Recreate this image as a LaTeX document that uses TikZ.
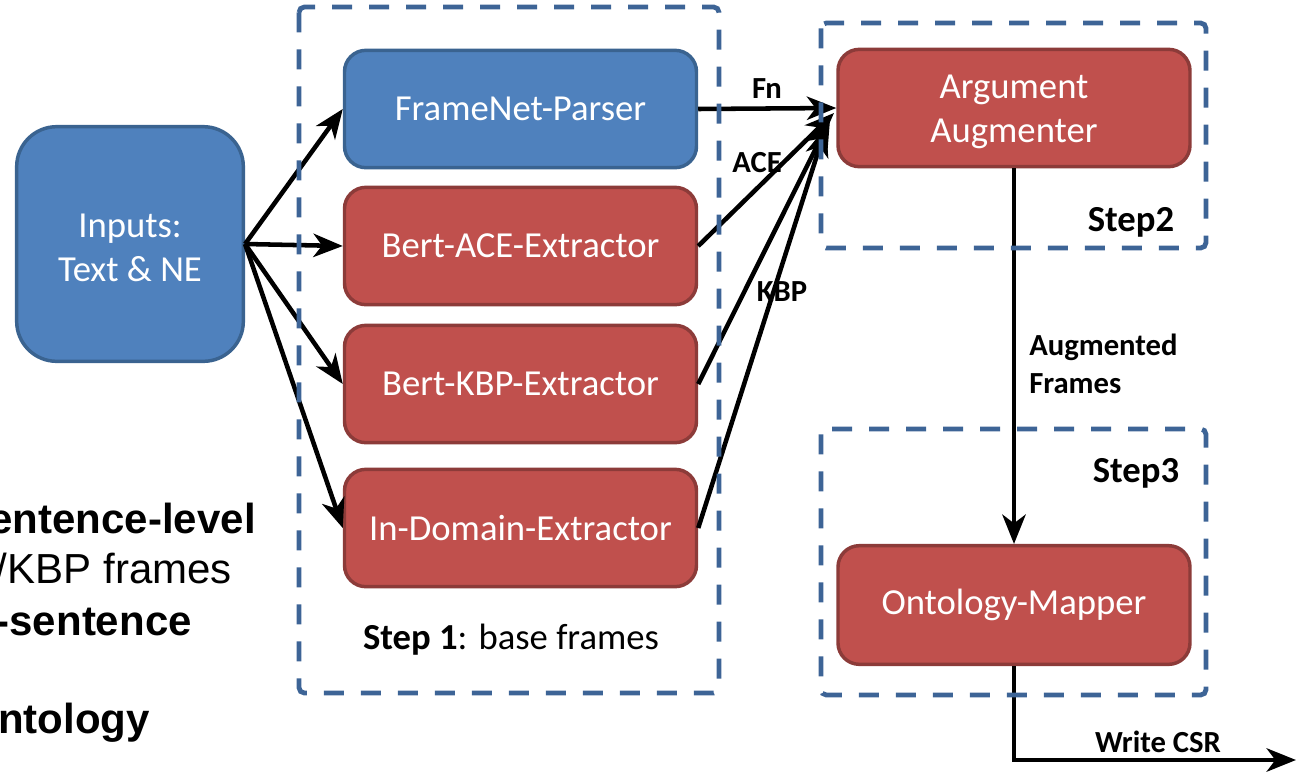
\documentclass[tikz,border=0pt]{standalone}
\usepackage{fontspec}
\setmainfont{Carlito}
\newfontfamily\sidefont{Liberation Sans}
\usetikzlibrary{arrows.meta}
\definecolor{boxblue}{HTML}{4F81BD}
\definecolor{boxblueedge}{HTML}{3A6390}
\definecolor{boxred}{HTML}{C0504D}
\definecolor{boxrededge}{HTML}{8C3B39}
\definecolor{stepline}{HTML}{3D6496}
\tikzset{
  box/.style={rounded corners=16pt, line width=2.6pt, minimum width=264pt,
    minimum height=88pt, inner sep=0pt, align=center, text=white,
    font=\fontsize{27.5}{33}\selectfont},
  bluebox/.style={box, fill=boxblue, draw=boxblueedge},
  redbox/.style={box, fill=boxred, draw=boxrededge},
  boxtext/.style={inner sep=0pt, align=center, text=white,
    font=\fontsize{27.5}{32.5}\selectfont},
  stepframe/.style={draw=stepline, line width=3.6pt,
    dash pattern=on 15pt off 12.75pt, rounded corners=4pt},
  flow/.style={line width=3.4pt, -{Stealth[length=22pt,width=17.5pt,inset=6.5pt]}},
  lbl/.style={inner sep=0pt, font=\bfseries\fontsize{23}{28.5}\selectfont},
  steplbl/.style={inner sep=0pt, font=\fontsize{27.5}{33}\selectfont},
  side/.style={anchor=base east, inner sep=0pt, font=\sidefont\fontsize{31.5}{36}\selectfont},
  sidebold/.style={side, font=\sidefont\bfseries\fontsize{31.5}{36}\selectfont}
}
\begin{document}
\begin{tikzpicture}[x=0.75pt, y=-0.75pt]
\useasboundingbox (0,0) rectangle (1297,779);
\clip (0,0) rectangle (1297,779);

% side notes running in from the left margin
\node[sidebold] (l1) at (256,533) {entence-level};
\node[side] (l2) at (232,583) {/KBP frames};
\node[sidebold] (l3) at (192,635) {-sentence};
\node[sidebold] (l4) at (150,733) {ntology};

% processing blocks
\node[bluebox, minimum width=170pt, minimum height=176pt, rounded corners=30pt] (inputs) at (130,244) {};
\node[boxtext] (inputstext) at (130,248) {Inputs:\\Text \& NE};
\node[bluebox] (fnp) at (520.5,109) {FrameNet-Parser};
\node[redbox] (ace) at (520.5,246) {Bert-ACE-Extractor};
\node[redbox] (kbp) at (520.5,384) {Bert-KBP-Extractor};
\node[redbox] (ind) at (520.5,528) {In-Domain-Extractor};
\node[redbox] (arg) at (1014,108) {};
\node[boxtext] (argtext) at (1014,112) {Argument\\Augmenter};
\node[redbox, minimum height=89pt] (ont) at (1014,605) {Ontology-Mapper};

% arrow end points
\coordinate (aceTip) at (834,113);
\coordinate (kbpTip) at (830,120);
\coordinate (indTip) at (826,127);
\coordinate (csrEnd) at (1296,760);

% connectors
\draw[flow] (inputs.east) -- (fnp.west);
\draw[flow] (inputs.east) -- (ace.west);
\draw[flow] (inputs.east) -- (kbp.west);
\draw[flow] (inputs.east) -- (ind.west);
\draw[flow] (fnp.east) -- (arg.west);
\draw[flow] (ace.east) -- (aceTip);
\draw[flow] (kbp.east) -- (kbpTip);
\draw[flow] (ind.east) -- (indTip);
\draw[flow] (arg.south) -- (ont.north);
\draw[flow] (ont.south) |- (csrEnd);

% step frames
\draw[stepframe] (299,7) rectangle (719,693);
\draw[stepframe] (821,23) rectangle (1206,248);
\draw[stepframe] (821,429) rectangle (1206,695);

% labels
\node[lbl] (fnlbl) at (767,89) {Fn};
\node[lbl] (acelbl) at (757,163) {ACE};
\node[lbl] (kbplbl) at (782,292) {KBP};
\node[lbl, anchor=west, align=left] (auglbl) at (1029,364) {Augmented\\Frames};
\node[lbl] (csrlbl) at (1158,742) {Write CSR};
\node[steplbl] (s1) at (511,640) {\textbf{Step 1}: base frames};
\node[steplbl, font=\bfseries\fontsize{27.5}{33}\selectfont] (s2) at (1131,222) {Step2};
\node[steplbl, font=\bfseries\fontsize{27.5}{33}\selectfont] (s3) at (1136,473) {Step3};
\end{tikzpicture}
\end{document}
